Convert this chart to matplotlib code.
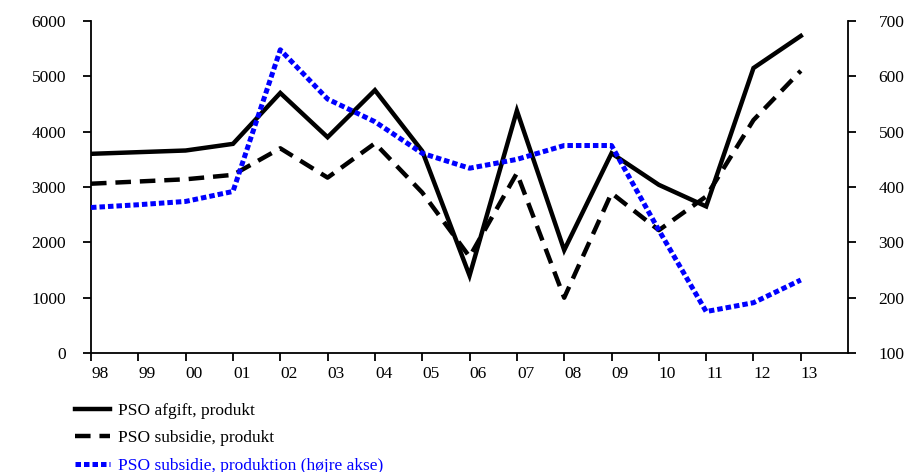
import numpy as np
from matplotlib import pyplot as plt

plt.rcParams.update({'font.family': 'Liberation Serif', 'font.size': 12.5})

# Years on the x axis
years = ['98', '99', '00', '01', '02', '03', '04', '05',
         '06', '07', '08', '09', '10', '11', '12', '13']

# PSO afgift, produkt (left axis)
afgift = [3600, 3630, 3660, 3780, 4700, 3900, 4750, 3650,
          1400, 4380, 1860, 3610, 3040, 2650, 5150, 5730]

# PSO subsidie, produkt (left axis)
subsidie_produkt = [3060, 3100, 3140, 3220, 3700, 3170, 3790, 2900,
                    1740, 3250, 1000, 2890, 2220, 2830, 4210, 5100]

# PSO subsidie, produktion (right axis)
subsidie_produktion = [363, 368, 374, 392, 648, 559, 518, 461,
                       434, 450, 475, 475, 322, 175, 191, 232]

x = np.arange(len(years))

fig = plt.figure(figsize=(9.1, 4.72), dpi=100)
ax = fig.add_axes([0.1, 0.252, 0.832, 0.7035])
ax2 = ax.twinx()

l1, = ax.plot(x, afgift, color='black', lw=3.2, solid_joinstyle='miter',
              label='PSO afgift, produkt')
l2, = ax.plot(x, subsidie_produkt, color='black', lw=3.2,
              dashes=(3.5, 2.0), label='PSO subsidie, produkt')
l3, = ax2.plot(x, subsidie_produktion, color='#0000ff', lw=3.6,
               dashes=(1.1, 0.6), label='PSO subsidie, produktion (højre akse)')

ax.set_xlim(0, 16)
ax.set_ylim(0, 6000)
ax.set_yticks(np.arange(0, 6001, 1000))
ax2.set_ylim(100, 700)
ax2.set_yticks(np.arange(100, 701, 100))

ax.set_xticks(x)
ax.set_xticklabels(years, ha='left')

for a in (ax, ax2):
    a.spines['top'].set_visible(False)
    for s in a.spines.values():
        s.set_linewidth(1.3)
ax.spines['right'].set_visible(False)
ax2.spines['left'].set_visible(False)
ax2.spines['bottom'].set_visible(False)

ax.tick_params(axis='x', direction='out', length=6, width=1.3, pad=3)
ax.tick_params(axis='y', direction='out', length=6, width=1.3, pad=12)
ax2.tick_params(axis='y', direction='out', length=6, width=1.3, pad=16)

leg = fig.legend(handles=[l1, l2, l3], loc='upper left',
                 bbox_to_anchor=(0.0824, 0.147), frameon=False,
                 borderpad=0, borderaxespad=0, handlelength=2.0,
                 handletextpad=0.46, labelspacing=0.65)
leg.get_texts()[2].set_color('#0000ff')

plt.savefig('out.png', dpi=100)
